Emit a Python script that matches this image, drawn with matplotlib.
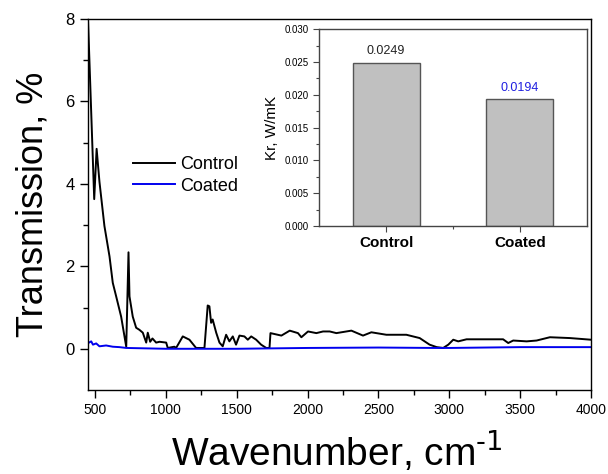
import numpy as np
import matplotlib.pyplot as plt

plt.rcParams['font.family'] = ['Liberation Sans', 'DejaVu Sans']
plt.rcParams['mathtext.default'] = 'regular'

# FTIR transmission spectra
control_wn = [450, 494, 511, 531, 566, 602, 625, 649, 684, 720, 736, 743, 766, 790,
              813, 837, 861, 872, 889, 905, 931, 955, 1002, 1013, 1060, 1072, 1119,
              1166, 1213, 1272, 1295, 1307, 1319, 1330, 1355, 1378, 1401, 1425, 1448,
              1472, 1495, 1519, 1554, 1578, 1602, 1637, 1672, 1708, 1731, 1738, 1815,
              1874, 1932, 1956, 2003, 2062, 2109, 2156, 2203, 2309, 2391, 2450, 2556,
              2697, 2791, 2861, 2911, 2957, 2993, 3028, 3063, 3122, 3380, 3416, 3451,
              3546, 3616, 3710, 3851, 4000]
control_t = [8.0, 3.63, 4.85, 4.05, 2.98, 2.24, 1.6, 1.27, 0.78, 0.05, 2.34, 1.27, 0.78,
             0.51, 0.46, 0.39, 0.15, 0.39, 0.17, 0.25, 0.15, 0.17, 0.15, 0.02, 0.05,
             0.02, 0.30, 0.22, 0.02, 0.02, 1.05, 1.03, 0.63, 0.71, 0.39, 0.15, 0.06,
             0.34, 0.18, 0.30, 0.10, 0.32, 0.30, 0.22, 0.30, 0.22, 0.10, 0.02, 0.02,
             0.38, 0.32, 0.44, 0.38, 0.28, 0.42, 0.38, 0.42, 0.42, 0.38, 0.44, 0.32,
             0.40, 0.34, 0.34, 0.26, 0.10, 0.04, 0.02, 0.10, 0.22, 0.18, 0.23, 0.23,
             0.14, 0.20, 0.18, 0.20, 0.28, 0.26, 0.22]

coated_wn = [452, 473, 485, 508, 531, 578, 625, 672, 720, 1000, 1500, 2000, 2500,
             2900, 3000, 3500, 4000]
coated_t = [0.14, 0.18, 0.10, 0.13, 0.06, 0.08, 0.05, 0.04, 0.02, 0.0, 0.0, 0.02,
            0.03, 0.02, 0.02, 0.04, 0.04]

# Radiative conductivity
samples = ['Control', 'Coated']
kr_values = [0.0249, 0.0194]
kr_label_colors = ['#222222', '#1f1fe0']

fig = plt.figure(figsize=(6.08, 4.74), dpi=100)
ax = fig.add_axes([0.1447, 0.1772, 0.8273, 0.7828])

ax.plot(control_wn, control_t, color='black', linewidth=1.4, label='Control')
ax.plot(coated_wn, coated_t, color='#0000ee', linewidth=1.4, label='Coated')

ax.set_xlim(450, 4000)
ax.set_ylim(-1, 8)
ax.set_xticks(np.arange(500, 4001, 500))
ax.set_xticks(np.arange(750, 4000, 500), minor=True)
ax.set_yticks([0, 2, 4, 6, 8])
ax.set_yticks([1, 3, 5, 7], minor=True)
ax.tick_params(axis='x', which='major', direction='out', length=6, width=1, labelsize=10)
ax.tick_params(axis='x', which='minor', direction='out', length=3.5, width=1)
ax.tick_params(axis='y', which='major', direction='out', length=6, width=1, labelsize=12)
ax.tick_params(axis='y', which='minor', direction='out', length=3.5, width=1)
for s in ax.spines.values():
    s.set_linewidth(1.0)

# x label placed by its baseline so the superscript doesn't shift it
fig.text(0.5535, 1 - 465 / 474, r'Wavenumber, cm$^{\text{-1}}$', fontsize=28,
         ha='center', va='baseline')
ax.set_ylabel('Transmission, %', fontsize=26, labelpad=11)

ax.legend(loc='upper left', bbox_to_anchor=(133 / 608, 1 - 156 / 474),
          bbox_transform=fig.transFigure, frameon=False, fontsize=13,
          handlelength=2.3, handletextpad=0.3, labelspacing=0.25,
          borderpad=0, borderaxespad=0)

# Inset bar chart
ins = fig.add_axes([0.5252, 0.5232, 0.4398, 0.415])
x_pos = [1, 2]
ins.bar(x_pos, kr_values, width=0.5, color='#c0c0c0', edgecolor='#555555', linewidth=1.0)
for xp, v, c in zip(x_pos, kr_values, kr_label_colors):
    ins.text(xp, v + 0.0008, f'{v:.4f}', ha='center', va='bottom', fontsize=9, color=c)
ins.set_xlim(0.5, 2.5)
ins.set_ylim(0, 0.030)
ins.set_xticks(x_pos)
ins.set_xticklabels(samples, fontsize=11, fontweight='bold')
ins.set_xticks([1.5], minor=True)
ins.set_yticks(np.arange(0, 0.0301, 0.005))
ins.set_yticklabels([f'{v:.3f}' for v in np.arange(0, 0.0301, 0.005)])
ins.set_yticks(np.arange(0.0025, 0.030, 0.005), minor=True)
ins.tick_params(axis='both', which='major', direction='out', length=4, width=0.8,
                labelsize=7, color='#444444')
ins.tick_params(axis='x', which='major', labelsize=11, pad=3)
ins.tick_params(axis='both', which='minor', direction='out', length=2, width=0.8,
                color='#444444')
for s in ins.spines.values():
    s.set_linewidth(1.0)
    s.set_color('#444444')
ins.set_ylabel('Kr, W/mK', fontsize=11, labelpad=4)

fig.savefig('out.png', dpi=100)
